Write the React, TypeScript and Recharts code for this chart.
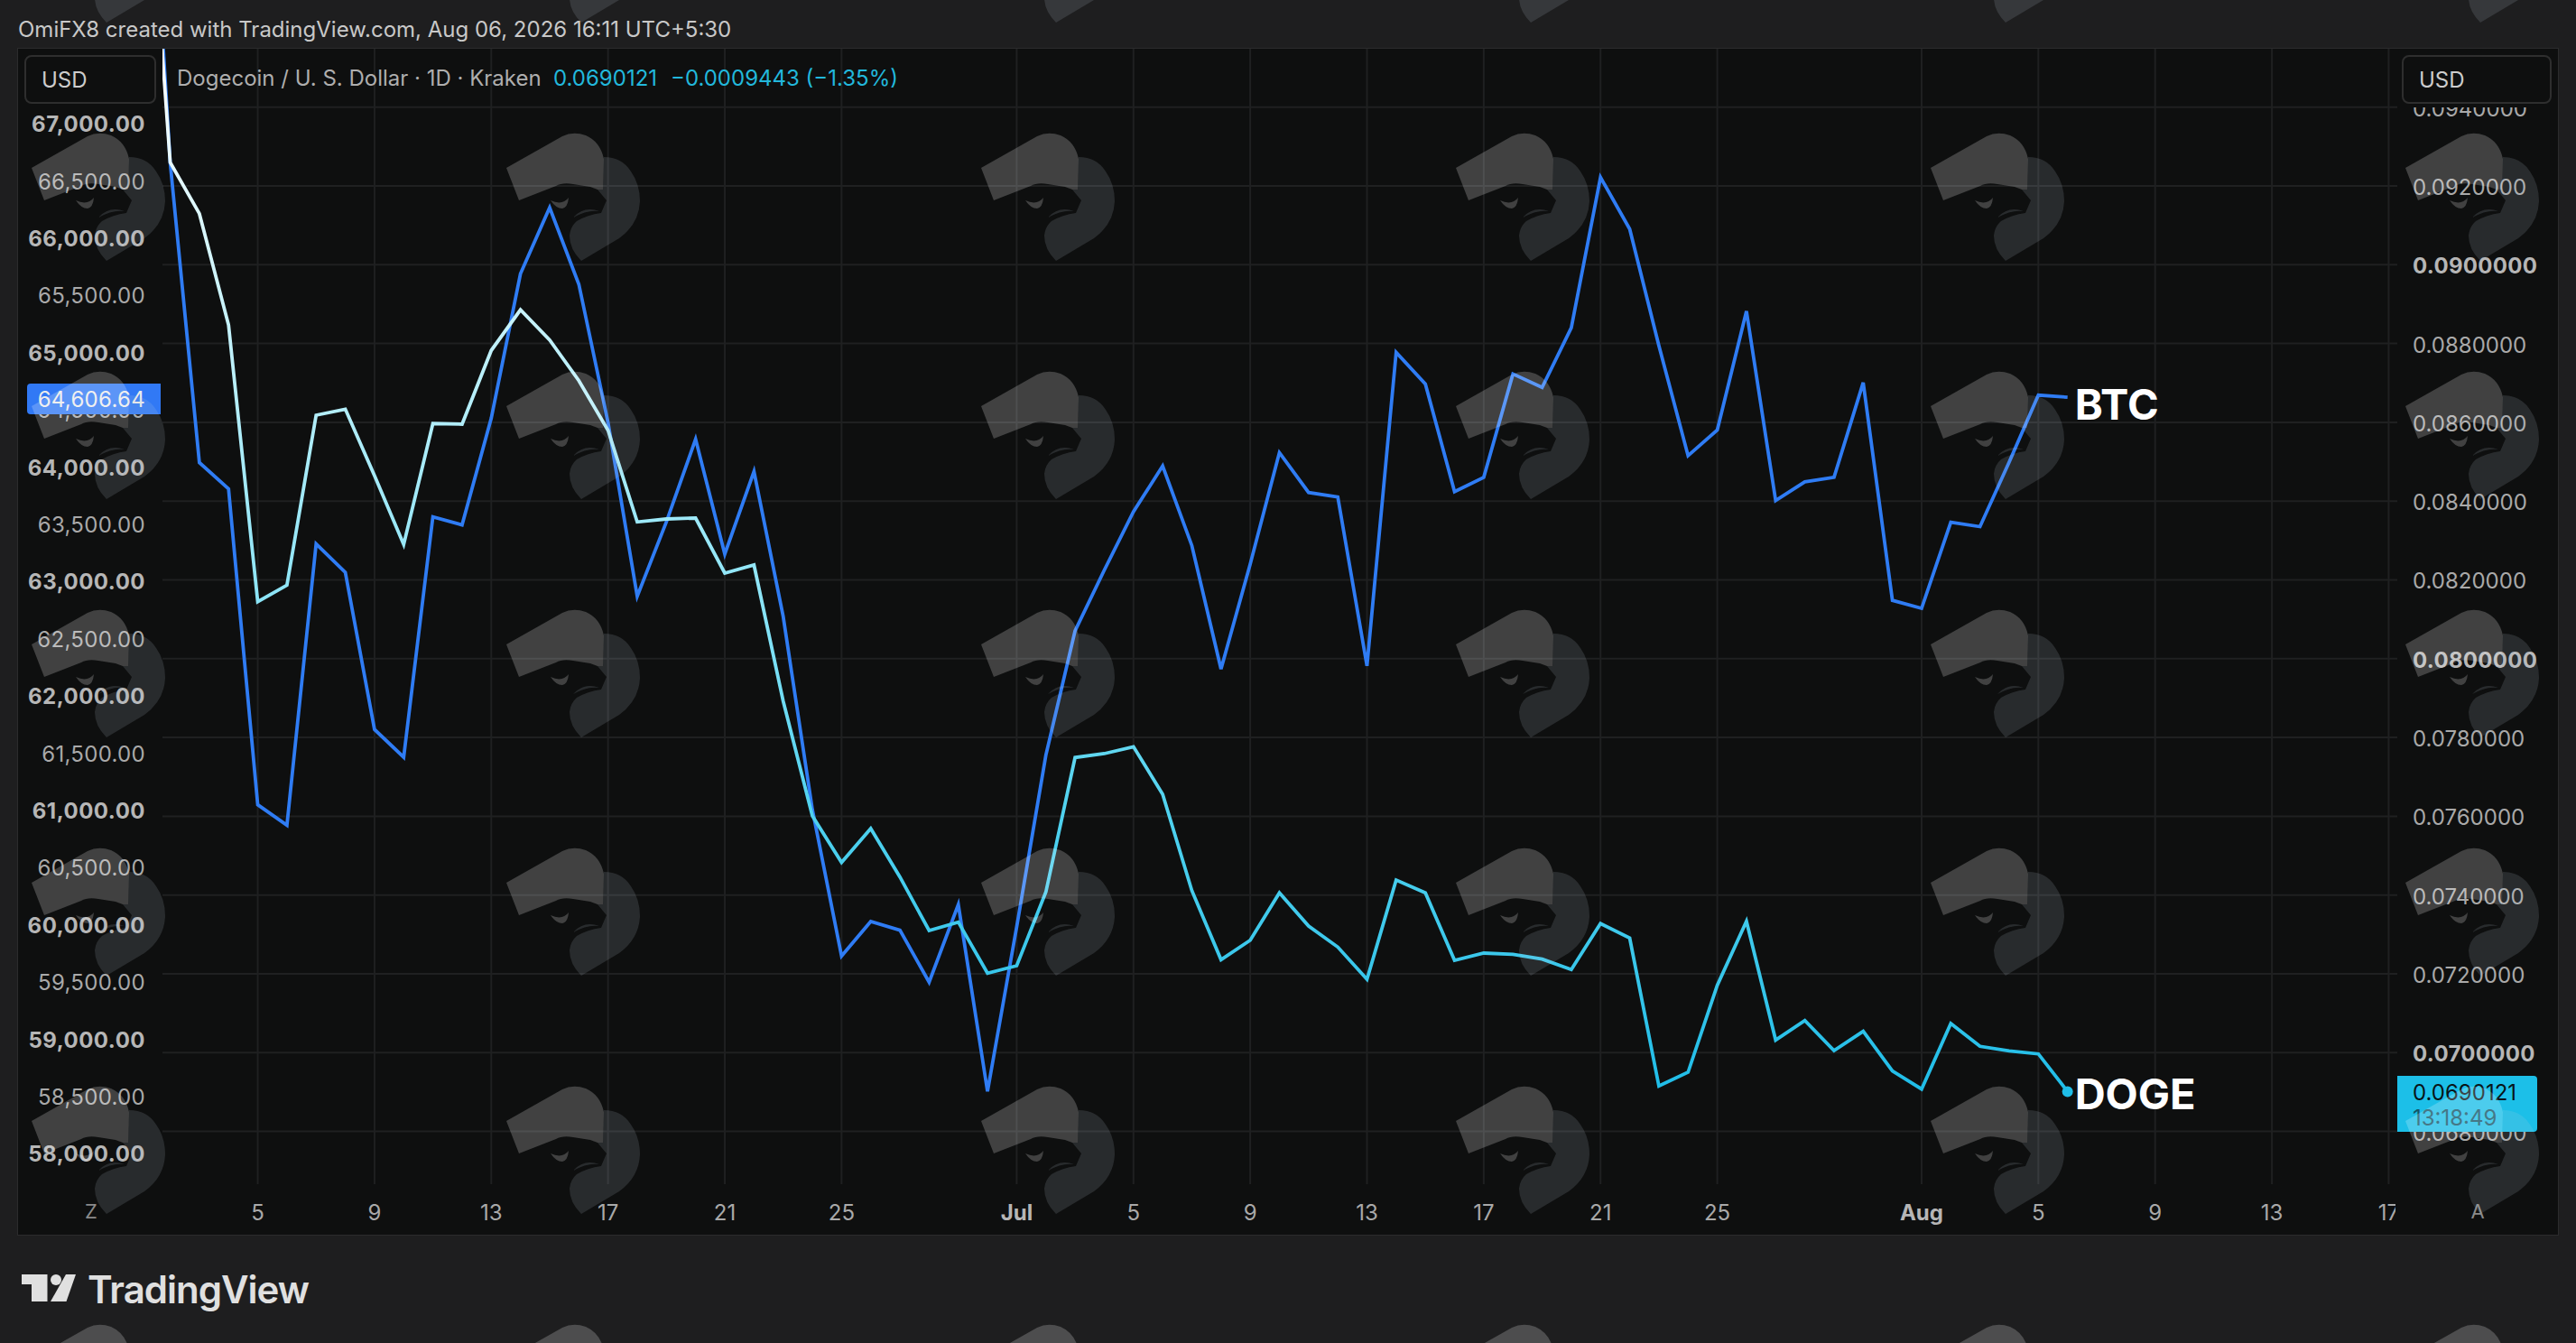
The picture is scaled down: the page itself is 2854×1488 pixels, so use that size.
import React from "react";
import { LineChart, Line, XAxis, YAxis, CartesianGrid, ReferenceDot } from "recharts";

const FONT = "Inter, 'Noto Sans', sans-serif";

// Day number counted from 1 June (1 = Jun 1, 31 = Jul 1, 62 = Aug 1)
const days = [
  1, 2, 3, 4, 5, 6, 7, 8, 9, 10, 11, 12, 13, 14, 15, 16, 17, 18, 19, 20, 21, 22,
  23, 24, 25, 26, 27, 28, 29, 30, 31, 32, 33, 34, 35, 36, 37, 38, 39, 40, 41, 42,
  43, 44, 45, 46, 47, 48, 49, 50, 51, 52, 53, 54, 55, 56, 57, 58, 59, 60, 61, 62,
  63, 64, 65, 66, 67,
];

const btcValues = [
  70900, 66659, 64036, 63806, 61046, 60868, 63325, 63076, 61704, 61462, 63562, 63491,
  64424, 65686, 66264, 65594, 64387, 62868, 63518, 64240, 63236, 63959, 62692, 61004,
  59724, 60026, 59950, 59496, 60174, 58541, 59979, 61480, 62566, 63096, 63607, 64006,
  63311, 62232, 63149, 64123, 63774, 63735, 62260, 64999, 64723, 63782, 63907, 64810,
  64692, 65214, 66528, 66077, 65058, 64096, 64320, 65359, 63704, 63868, 63907, 64735,
  62832, 62762, 63515, 63476, 64040, 64625, 64606.64,
];

const dogeValues = [
  0.10295, 0.092596, 0.091297, 0.088472, 0.081445, 0.081867, 0.086181, 0.086334,
  0.084646, 0.082898, 0.085968, 0.085952, 0.087824, 0.088855, 0.088089, 0.087058,
  0.085798, 0.083471, 0.083546, 0.083569, 0.082172, 0.082378, 0.078925, 0.076009,
  0.074829, 0.075688, 0.074458, 0.0731, 0.073313, 0.072016, 0.072206, 0.074078,
  0.077491, 0.07759, 0.077766, 0.076559, 0.074114, 0.07236, 0.072854, 0.074055,
  0.073214, 0.07268, 0.071862, 0.074382, 0.074055, 0.072344, 0.072527, 0.072497,
  0.072373, 0.072108, 0.073276, 0.072909, 0.069152, 0.069503, 0.071709, 0.073335,
  0.07032, 0.070815, 0.070053, 0.070541, 0.069533, 0.069074, 0.07074, 0.07016,
  0.070046, 0.069968, 0.0690121,
];

const xTickDays = [5, 9, 13, 17, 21, 25, 31, 35, 39, 43, 47, 51, 55, 62, 66, 70, 74, 78];
const xTickLabels = ["5", "9", "13", "17", "21", "25", "Jul", "5", "9", "13", "17", "21", "25", "Aug", "5", "9", "13", "17"];
const leftTicks = [
  58000, 58500, 59000, 59500, 60000, 60500, 61000, 61500, 62000, 62500, 63000, 63500,
  64000, 64500, 65000, 65500, 66000, 66500, 67000,
];
const rightTicks = [
  0.068, 0.07, 0.072, 0.074, 0.076, 0.078, 0.08, 0.082, 0.084, 0.086, 0.088, 0.09, 0.092, 0.094,
];
const rightBold = [0.07, 0.08, 0.09];

const watermarkColumns = [35, 561, 1087, 1613, 2139, 2665];
const watermarkRows = [-116, 148, 412, 676, 940, 1204, 1468];

const chartData = days.map((day, i) => ({ day, btc: btcValues[i], doge: dogeValues[i] }));

const LAST_BTC = btcValues[btcValues.length - 1];
const LAST_DOGE = dogeValues[dogeValues.length - 1];
const LAST_DAY = days[days.length - 1];

const TICK = "#a9a9a9";
const TICK_BOLD = "#b6b6b6";
const BLUE = "#2f7cf4";
const CYAN = "#1fbde8";
const PANEL = "#0e0f0f";

const LeftTick = ({ x, y, payload }: any) => {
  const bold = payload.value % 1000 === 0;
  return (
    <text x={x} y={y + 1} textAnchor="end" dominantBaseline="central" fontFamily={FONT} fontSize={24}
      fontWeight={bold ? 700 : 400} letterSpacing={bold ? 0.5 : 0.3} fill={bold ? TICK_BOLD : TICK}>
      {payload.value.toLocaleString("en-US", { minimumFractionDigits: 2 })}
    </text>
  );
};

const RightTick = ({ x, y, payload }: any) => {
  const bold = rightBold.includes(payload.value);
  return (
    <text x={x} y={y + 1.5} textAnchor="start" dominantBaseline="central" fontFamily={FONT} fontSize={24}
      fontWeight={bold ? 700 : 400} letterSpacing={bold ? 0.3 : 0} fill={bold ? TICK_BOLD : TICK}>
      {payload.value.toFixed(7)}
    </text>
  );
};

const BottomTick = ({ x, y, payload }: any) => {
  const label = xTickLabels[xTickDays.indexOf(payload.value)];
  const bold = label === "Jul" || label === "Aug";
  return (
    <text x={x} y={y + 1} textAnchor="middle" dominantBaseline="central" fontFamily={FONT} fontSize={24}
      fontWeight={bold ? 700 : 400} fill={bold ? TICK_BOLD : TICK}>
      {label}
    </text>
  );
};

const seriesLabel = (text: string, dx: number, dy: number) => ({ viewBox }: any) => (
  <text x={viewBox.x + viewBox.width + dx} y={viewBox.y + viewBox.height / 2 + dy} dominantBaseline="central"
    fontFamily={FONT} fontSize={47} fontWeight={700} fill="#ffffff">
    {text}
  </text>
);

const Chrome = () => (
  <svg width={2854} height={1488} style={{ position: "absolute", left: 0, top: 0, pointerEvents: "none" }}>
    {/* clips the last time label at the edge of the price scale */}
    <rect x={2654} y={1316} width={178} height={50} fill={PANEL} />
    {/* the top of the price scale is hidden behind the currency button */}
    <rect x={2656} y={54} width={176} height={65} fill={PANEL} />

    <text x={20} y={32} dominantBaseline="central" fontFamily={FONT} fontSize={24} fill="#c8c8c8">
      OmiFX8 created with TradingView.com, Aug 06, 2026 16:11 UTC+5:30
    </text>

    <text x={196} y={86} dominantBaseline="central" fontFamily={FONT} fontSize={24} fill="#aeaeae">
      Dogecoin / U. S. Dollar · 1D · Kraken
    </text>
    <text x={613} y={86} dominantBaseline="central" fontFamily={FONT} fontSize={24} fill="#22b8dc">
      {LAST_DOGE.toFixed(7)}
    </text>
    <text x={743} y={86} dominantBaseline="central" fontFamily={FONT} fontSize={24} fill="#22b8dc">
      −0.0009443 (−1.35%)
    </text>

    <rect x={28} y={62} width={144} height={52} rx={7} fill={PANEL} stroke="#2e2e2e" strokeWidth={2} />
    <text x={46} y={88} dominantBaseline="central" fontFamily={FONT} fontSize={24} fill="#cccccc">USD</text>
    <rect x={2662} y={62} width={164} height={52} rx={7} fill={PANEL} stroke="#2e2e2e" strokeWidth={2} />
    <text x={2680} y={88} dominantBaseline="central" fontFamily={FONT} fontSize={24} fill="#cccccc">USD</text>

    <path d="M34 425 H178 V459 H34 Q30 459 30 455 V429 Q30 425 34 425 Z" fill="#3179f5" />
    <text x={161} y={442} textAnchor="end" dominantBaseline="central" fontFamily={FONT} fontSize={24} letterSpacing={0.3} fill="#ececec">
      {LAST_BTC.toLocaleString("en-US", { minimumFractionDigits: 2 })}
    </text>

    <path d="M2656 1192 H2807 Q2811 1192 2811 1196 V1250 Q2811 1254 2807 1254 H2656 Z" fill="#1cbfe8" />
    <text x={2673} y={1210} dominantBaseline="central" fontFamily={FONT} fontSize={24} fill="#081418">
      {LAST_DOGE.toFixed(7)}
    </text>
    <text x={2673} y={1238} dominantBaseline="central" fontFamily={FONT} fontSize={24} fill="#145467">
      13:18:49
    </text>

    <text x={101} y={1342} textAnchor="middle" dominantBaseline="central" fontFamily={FONT} fontSize={22} fill="#8a8a8a">Z</text>
    <text x={2745} y={1342} textAnchor="middle" dominantBaseline="central" fontFamily={FONT} fontSize={22} fill="#8a8a8a">A</text>

    {/* TradingView mark */}
    <path d="M24 1412 H52.5 V1442 H35 V1423 H24 Z" fill="#e0e0e0" />
    <circle cx={62} cy={1418} r={6} fill="#e0e0e0" />
    <path d="M73 1412 H84 L73.5 1442 H56 Z" fill="#e0e0e0" />
    <text x={97} y={1428.5} dominantBaseline="central" fontFamily={FONT} fontSize={42} fontWeight={600}
      letterSpacing={-1} fill="#e0e0e0">
      TradingView
    </text>

    {watermarkRows.map((top) =>
      watermarkColumns.map((left) => (
        <g key={`${left}-${top}`} transform={`translate(${left} ${top})`}>
          <path
            d="M0 38 L62 3 Q74 -3 88 2 Q104 9 108 28 L107 62 L101 62 L93 59 L74 56 Q62 54 55 58 L14 74 Z"
            fill="rgba(255,255,255,0.21)"
          />
          <path
            d="M108 26 Q128 26 138 42 Q148 56 148 75 Q147 100 125 116 L83 141 Q70 128 70 113 Q71 103 78 97 Q90 90 105 88 L111 74 L101 62 L107 62 Z"
            fill="rgba(195,205,220,0.15)"
          />
          <path d="M74 93 Q86 80 103 86 Q90 84 74 93 Z" fill="rgba(195,205,220,0.15)" />
          <path d="M49 74 Q62 80 69 71 Q68 82 62 83 Q55 83 49 74 Z" fill="rgba(255,255,255,0.21)" />
        </g>
      ))
    )}
  </svg>
);

export default function App() {
  return (
    <div style={{ position: "absolute", left: 0, top: 0, width: 2854, height: 1488, background: "#1e1e1f", overflow: "hidden" }}>
      <div style={{ position: "absolute", left: 19, top: 53, width: 2814, height: 1314, background: PANEL, border: "1px solid #2b2b2c" }} />
      <div style={{ position: "absolute", left: 0, top: 0 }}>
        <LineChart width={2854} height={1488} data={chartData} margin={{ top: 54, right: 21, bottom: 121, left: 20 }}>
          <defs>
            <linearGradient id="dogeGradient" gradientUnits="userSpaceOnUse" x1={0} y1={54} x2={0} y2={1210}>
              <stop offset="0" stopColor="#ffffff" />
              <stop offset="0.25" stopColor="#c8f3fb" />
              <stop offset="0.52" stopColor="#8ee5f7" />
              <stop offset="0.73" stopColor="#50d2ef" />
              <stop offset="0.9" stopColor="#36c5ea" />
              <stop offset="1" stopColor={CYAN} />
            </linearGradient>
          </defs>
          <CartesianGrid yAxisId="right" stroke="#1f2021" strokeWidth={2} syncWithTicks />
          <XAxis
            dataKey="day"
            type="number"
            domain={[1.736, 78.296]}
            allowDataOverflow
            ticks={xTickDays}
            interval={0}
            height={55}
            tickSize={0}
            tickMargin={30}
            axisLine={false}
            tickLine={false}
            tick={<BottomTick />}
          />
          <YAxis
            yAxisId="left"
            orientation="left"
            domain={[57731, 67652]}
            allowDataOverflow
            ticks={leftTicks}
            interval={0}
            width={160}
            tickSize={0}
            tickMargin={19}
            axisLine={false}
            tickLine={false}
            tick={<LeftTick />}
          />
          <YAxis
            yAxisId="right"
            orientation="right"
            domain={[0.066662, 0.095482]}
            allowDataOverflow
            ticks={rightTicks}
            interval={0}
            width={177}
            tickSize={0}
            tickMargin={17}
            axisLine={false}
            tickLine={false}
            tick={<RightTick />}
          />
          <Line yAxisId="left" dataKey="btc" stroke={BLUE} strokeWidth={3.8} strokeLinejoin="miter" dot={false} isAnimationActive={false} />
          <Line yAxisId="right" dataKey="doge" stroke="url(#dogeGradient)" strokeWidth={3.8} strokeLinejoin="miter" dot={false} isAnimationActive={false} />
          <ReferenceDot
            yAxisId="left"
            x={LAST_DAY}
            y={LAST_BTC}
            r={1}
            fill="none"
            stroke="none"
            label={{ content: seriesLabel("BTC", 7, 7) }}
          />
          <ReferenceDot
            yAxisId="right"
            x={LAST_DAY}
            y={LAST_DOGE}
            r={6}
            fill={CYAN}
            stroke="none"
            label={{ content: seriesLabel("DOGE", 2, 2) }}
          />
        </LineChart>
      </div>
      <Chrome />
    </div>
  );
}
